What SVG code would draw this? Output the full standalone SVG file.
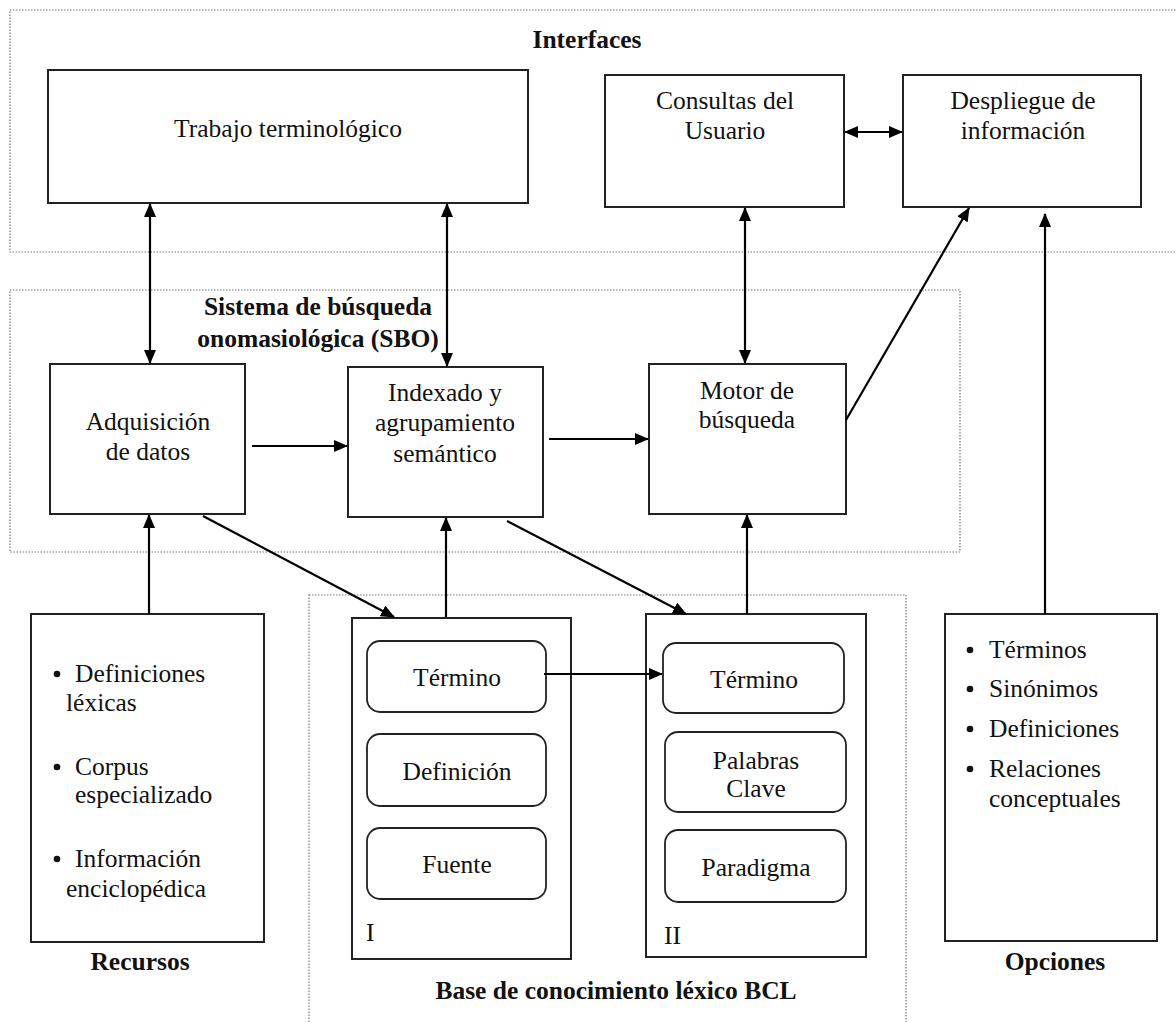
<svg xmlns="http://www.w3.org/2000/svg" width="1176" height="1022" viewBox="0 0 1176 1022">
<style>
text{font-family:"Liberation Serif","Times New Roman",serif;font-size:25.5px;fill:#111}
.b{font-weight:bold}
.c{text-anchor:middle}
.box{fill:#fff;stroke:#222;stroke-width:2}
.rbox{fill:#fff;stroke:#222;stroke-width:1.8}
.frame{fill:none;stroke:#777;stroke-width:1.2;stroke-dasharray:1.5 1.5}
.ln{fill:none;stroke:#000;stroke-width:2.2}
.a{marker-end:url(#ah)}
.d{marker-start:url(#ah);marker-end:url(#ah)}
</style>
<defs>
<marker id="ah" viewBox="0 0 14 12" refX="13" refY="6" markerWidth="14" markerHeight="12" markerUnits="userSpaceOnUse" orient="auto-start-reverse">
<path d="M0,0 L14,6 L0,12 z" fill="#000"/>
</marker>
</defs>
<rect width="1176" height="1022" fill="#fff"/>

<g id="frames">
<rect class="frame" x="10" y="10" width="1180" height="242"/>
<rect class="frame" x="10" y="290" width="950" height="262"/>
<rect class="frame" x="309" y="595" width="597" height="440"/>
</g>

<g id="titles">
<text class="b c" x="587" y="48">Interfaces</text>
<text class="b c" x="318" y="315">Sistema de búsqueda</text>
<text class="b c" x="318" y="347">onomasiológica (SBO)</text>
<text class="b c" x="140" y="970">Recursos</text>
<text class="b c" x="1055" y="970">Opciones</text>
<text class="b c" x="616" y="999">Base de conocimiento léxico BCL</text>
</g>

<g id="trabajo">
<rect class="box" x="48" y="70" width="480" height="133"/>
<text class="c" x="288" y="137">Trabajo terminológico</text>
</g>
<g id="consultas">
<rect class="box" x="605" y="75" width="239" height="132"/>
<text class="c" x="725" y="109">Consultas del</text>
<text class="c" x="725" y="139">Usuario</text>
</g>
<g id="despliegue">
<rect class="box" x="903" y="75" width="238" height="132"/>
<text class="c" x="1023" y="109">Despliegue de</text>
<text class="c" x="1023" y="139">información</text>
</g>
<g id="adquisicion">
<rect class="box" x="50" y="364" width="195" height="150"/>
<text class="c" x="148" y="430">Adquisición</text>
<text class="c" x="148" y="460">de datos</text>
</g>
<g id="indexado">
<rect class="box" x="348" y="367" width="195" height="150"/>
<text class="c" x="445" y="401">Indexado y</text>
<text class="c" x="445" y="431">agrupamiento</text>
<text class="c" x="445" y="462">semántico</text>
</g>
<g id="motor">
<rect class="box" x="649" y="364" width="197" height="150"/>
<text class="c" x="747" y="399">Motor de</text>
<text class="c" x="747" y="428">búsqueda</text>
</g>
<g id="recursos">
<rect class="box" x="31" y="614" width="233" height="328"/>
<circle cx="57" cy="674" r="3.3" fill="#111"/>
<text x="75" y="682">Definiciones</text>
<text x="66" y="711">léxicas</text>
<circle cx="57" cy="767" r="3.3" fill="#111"/>
<text x="75" y="775">Corpus</text>
<text x="75" y="803">especializado</text>
<circle cx="57" cy="859" r="3.3" fill="#111"/>
<text x="75" y="867">Información</text>
<text x="66" y="897">enciclopédica</text>
</g>
<g id="bcl-I">
<rect class="box" x="352" y="618" width="219" height="341"/>
<rect class="rbox" x="367" y="641" width="179" height="71" rx="13"/>
<text class="c" x="457" y="686">Término</text>
<rect class="rbox" x="367" y="734" width="179" height="72" rx="13"/>
<text class="c" x="457" y="780">Definición</text>
<rect class="rbox" x="367" y="828" width="179" height="71" rx="13"/>
<text class="c" x="457" y="873">Fuente</text>
<text x="366" y="941">I</text>
</g>
<g id="bcl-II">
<rect class="box" x="646" y="614" width="220" height="343"/>
<rect class="rbox" x="663" y="643" width="181" height="70" rx="13"/>
<text class="c" x="754" y="688">Término</text>
<rect class="rbox" x="665" y="732" width="181" height="80" rx="13"/>
<text class="c" x="756" y="769">Palabras</text>
<text class="c" x="756" y="797">Clave</text>
<rect class="rbox" x="665" y="830" width="181" height="72" rx="13"/>
<text class="c" x="756" y="876">Paradigma</text>
<text x="664" y="944">II</text>
</g>
<g id="opciones">
<rect class="box" x="945" y="614" width="212" height="327"/>
<circle cx="970" cy="650" r="3.3" fill="#111"/>
<text x="989" y="658">Términos</text>
<circle cx="970" cy="689" r="3.3" fill="#111"/>
<text x="989" y="697">Sinónimos</text>
<circle cx="970" cy="729" r="3.3" fill="#111"/>
<text x="989" y="737">Definiciones</text>
<circle cx="970" cy="769" r="3.3" fill="#111"/>
<text x="989" y="777">Relaciones</text>
<text x="989" y="807">conceptuales</text>
</g>

<g id="connectors">
<line class="ln d" x1="150" y1="204" x2="150" y2="363"/>
<line class="ln d" x1="447" y1="204" x2="447" y2="366"/>
<line class="ln d" x1="845" y1="132" x2="902" y2="132"/>
<line class="ln d" x1="745" y1="208" x2="745" y2="363"/>
<line class="ln a" x1="252" y1="446" x2="347" y2="446"/>
<line class="ln a" x1="549" y1="439" x2="648" y2="439"/>
<line class="ln a" x1="846" y1="420" x2="969" y2="208"/>
<line class="ln a" x1="1045" y1="614" x2="1045" y2="214"/>
<line class="ln a" x1="149" y1="614" x2="149" y2="515"/>
<line class="ln a" x1="203" y1="516" x2="394" y2="617"/>
<line class="ln a" x1="446" y1="617" x2="446" y2="518"/>
<line class="ln a" x1="507" y1="521" x2="686" y2="614"/>
<line class="ln a" x1="747" y1="614" x2="747" y2="515"/>
<line class="ln a" x1="544" y1="674" x2="662" y2="674"/>
</g>
</svg>
